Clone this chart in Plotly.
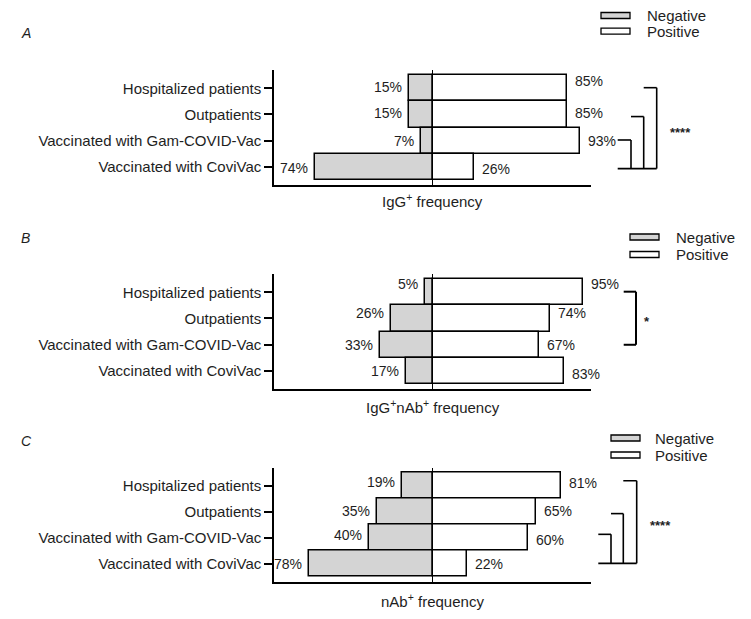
import plotly.graph_objects as go

# ---------------- data ----------------
categories = ["Hospitalized patients", "Outpatients",
              "Vaccinated with Gam-COVID-Vac", "Vaccinated with CoviVac"]
igg_negative = [15, 15, 7, 74]
igg_positive = [85, 85, 93, 26]
iggnab_negative = [5, 26, 33, 17]
iggnab_positive = [95, 74, 67, 83]
nab_negative = [19, 35, 40, 78]
nab_positive = [81, 65, 60, 22]
panel_letters = ["A", "B", "C"]
x_titles = ["IgG<sup>+</sup> frequency",
            "IgG<sup>+</sup>nAb<sup>+</sup> frequency",
            "nAb<sup>+</sup> frequency"]
significance = ["****", "*", "****"]
legend_labels = ["Negative", "Positive"]

negatives = [igg_negative, iggnab_negative, nab_negative]
positives = [igg_positive, iggnab_positive, nab_positive]

# ---------------- layout geometry (target pixels in the 751x619 window) -------
OFF = 8                      # default page margin around the figure
W, H = 751 - OFF, 619 - OFF
PLOT_L, PLOT_R, PLOT_T, PLOT_B = 274, 591, 70, 582   # window pixels
L = PLOT_L - OFF
R = W - (PLOT_R - OFF)
T = PLOT_T - OFF
B = H - (PLOT_B - OFF)
PW, PH = W - L - R, H - T - B


def px(xp):
    return (xp - PLOT_L) / PW


def py(yp):
    return (PLOT_B - yp) / PH


panel_px = [(70, 185), (274, 389), (467.5, 582)]
xtitle_y = [200, 406, 600]
letter_y = [32.5, 238, 441]
legend_box_x = [601, 630, 611]
legend_text_x = [645, 674, 653]
legend_rows = [(15.5, 31.2), (237, 254.5), (438, 455)]

neg_yshift = [[1.5, 1, 0, -1.7], [8, 5, 0, 0], [3.6, 1, 2.7, 0]]
pos_yshift = [[7, 1, -0.5, -2], [8, 5, 0, -3], [3, 1, -2.6, 0]]

# brackets: (top_y, x_left_px, x_right_px), bottom y, star position
brackets = [
    dict(levels=[(1.02, 617.7, 631), (1.92, 631, 643.7), (3.03, 643.7, 656.7)],
         bottom=-0.08, star=(680, 1.44), lw=1.6),
    dict(levels=[(3.03, 623.7, 636)], bottom=0.99, star=(647, 2.0), lw=2.0),
    dict(levels=[(1.13, 598.3, 611), (1.93, 611, 623.3), (3.2, 623.3, 636.7)],
         bottom=0.01, star=(660, 1.59), lw=1.6),
]

NEG_COLOR = "#d4d4d4"
INK = "#1e1e1e"
NUM_FONT = dict(family="Liberation Sans, Arial, sans-serif", size=14, color=INK)
LAB_FONT = dict(family="Liberation Sans, Arial, sans-serif", size=15, color=INK)

fig = go.Figure()
shapes = []
annotations = []

for i in range(3):
    sfx = "" if i == 0 else str(i + 1)
    xa, ya = "x" + sfx, "y" + sfx
    fig.add_trace(go.Bar(
        x=[-v for v in negatives[i]], y=categories, orientation="h",
        width=1, marker=dict(color=NEG_COLOR, line=dict(color="black", width=1.5)),
        name=legend_labels[0], showlegend=False, xaxis=xa, yaxis=ya,
        hoverinfo="skip"))
    fig.add_trace(go.Bar(
        x=positives[i], y=categories, orientation="h",
        width=1, marker=dict(color="white", line=dict(color="black", width=1.5)),
        name=legend_labels[1], showlegend=False, xaxis=xa, yaxis=ya,
        hoverinfo="skip"))

    # value labels
    for j, cat in enumerate(categories):
        annotations.append(dict(
            x=-negatives[i][j], y=cat, xref=xa, yref=ya, text=f"{negatives[i][j]}%",
            showarrow=False, xanchor="right", yanchor="middle", xshift=-5,
            yshift=neg_yshift[i][j], font=NUM_FONT))
        annotations.append(dict(
            x=positives[i][j], y=cat, xref=xa, yref=ya, text=f"{positives[i][j]}%",
            showarrow=False, xanchor="left", yanchor="middle", xshift=6,
            yshift=pos_yshift[i][j], font=NUM_FONT))

    top, bot = panel_px[i]
    dom = [max(0.0, py(bot)), min(1.0, py(top))]
    fig.layout["xaxis" + sfx] = dict(
        domain=[0, 1], range=[-100, 100], anchor=ya, showline=True,
        linecolor="black", linewidth=1.5, showticklabels=False, ticks="",
        showgrid=False, zeroline=True, zerolinecolor="black", zerolinewidth=1.2,
        fixedrange=True)
    fig.layout["yaxis" + sfx] = dict(
        domain=dom, anchor=xa, type="category", categoryorder="array",
        categoryarray=categories[::-1], range=[-0.71, 3.71], showline=True,
        linecolor="black", linewidth=1.5, ticks="outside", ticklen=8,
        tickwidth=1.5, tickcolor="black", showgrid=False, zeroline=False,
        tickfont=LAB_FONT, fixedrange=True)

    # x title
    annotations.append(dict(
        x=0.5, y=py(xtitle_y[i]), xref="paper", yref="paper", text=x_titles[i],
        showarrow=False, xanchor="center", yanchor="middle", font=LAB_FONT))
    # panel letter
    annotations.append(dict(
        x=px(19), y=py(letter_y[i]), xref="paper", yref="paper",
        text=f"<i>{panel_letters[i]}</i>", showarrow=False, xanchor="left",
        yanchor="middle", font=dict(family="Liberation Sans, Arial", size=14, color=INK)))

    # legend
    fills = [NEG_COLOR, "white"]
    for k in range(2):
        yc = legend_rows[i][k]
        shapes.append(dict(
            type="rect", xref="paper", yref="paper",
            x0=px(legend_box_x[i]), x1=px(legend_box_x[i] + 29),
            y0=py(yc + 3), y1=py(yc - 3), fillcolor=fills[k],
            line=dict(color="black", width=1.3)))
        annotations.append(dict(
            x=px(legend_text_x[i]), y=py(yc), xref="paper", yref="paper",
            text=legend_labels[k], showarrow=False, xanchor="left",
            yanchor="middle", font=LAB_FONT))

    # significance brackets
    br = brackets[i]
    lw = br["lw"]
    xs_left = min(lv[1] for lv in br["levels"])
    xs_right = max(lv[2] for lv in br["levels"])
    for (ty, xl, xr) in br["levels"]:
        shapes.append(dict(type="line", xref="paper", yref=ya,
                           x0=px(xl), x1=px(xr), y0=ty, y1=ty,
                           line=dict(color="black", width=lw)))
        shapes.append(dict(type="line", xref="paper", yref=ya,
                           x0=px(xr), x1=px(xr), y0=ty, y1=br["bottom"],
                           line=dict(color="black", width=lw)))
    shapes.append(dict(type="line", xref="paper", yref=ya,
                       x0=px(xs_left), x1=px(xs_right), y0=br["bottom"], y1=br["bottom"],
                       line=dict(color="black", width=lw)))
    sx, sy = br["star"]
    annotations.append(dict(
        x=px(sx), y=sy, xref="paper", yref=ya, text=f"<b>{significance[i]}</b>",
        showarrow=False, xanchor="center", yanchor="middle", yshift=-3,
        font=dict(family="Liberation Sans, Arial", size=13, color=INK)))

fig.update_layout(
    width=W, height=H, margin=dict(l=L, r=R, t=T, b=B, autoexpand=False),
    paper_bgcolor="white", plot_bgcolor="white", barmode="relative", bargap=0,
    showlegend=False, shapes=shapes, annotations=annotations,
)

fig.write_html("out.html")
